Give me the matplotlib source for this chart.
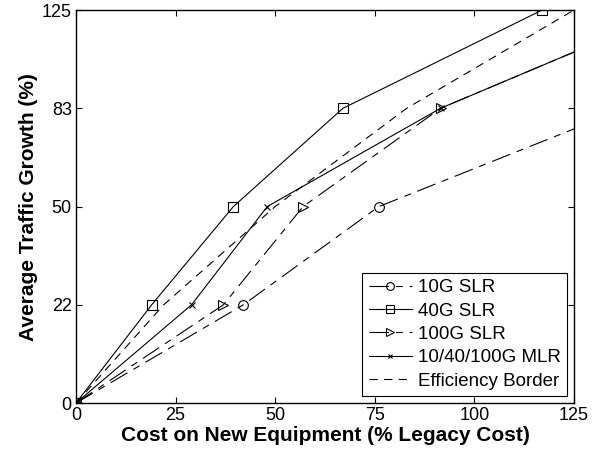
import matplotlib
matplotlib.use("Agg")
import matplotlib.pyplot as plt
import numpy as np

plt.rcParams['font.family'] = ['Liberation Sans', 'DejaVu Sans']
plt.rcParams['lines.scale_dashes'] = False

# y ticks are evenly spaced on the chart although the values are not
ytick_vals = [0, 22, 50, 83, 125]
xtick_vals = [0, 25, 50, 75, 100, 125]

x_10g = [0, 42, 76, 138]
y_10g = [0, 22, 50, 83]
x_40g = [0, 19, 39.5, 67, 117]
y_40g = [0, 22, 50, 83, 125]
x_100g = [0, 37, 57, 91.5, 150]
y_100g = [0, 22, 50, 83, 125]
x_mlr = [0, 29, 48, 91.5, 150]
y_mlr = [0, 22, 50, 83, 125]
x_border = [0, 22, 50, 83, 125]
y_border = [0, 22, 50, 83, 125]

idx = np.arange(len(ytick_vals))
def fwd(v):
    return np.interp(v, ytick_vals, idx)
def inv(v):
    return np.interp(v, idx, ytick_vals)

fig = plt.figure(figsize=(6.06, 4.57), dpi=100)
ax = fig.add_axes([0.1254, 0.118, 0.8218, 0.860])
ax.set_yscale('function', functions=(fwd, inv))

dashdot = (0, (14, 5, 5, 5))
lw = 0.8
ax.plot(x_10g, y_10g, color='k', lw=lw, ls=dashdot, marker='o', ms=7, mfc='none', mew=0.8, label='10G SLR')
ax.plot(x_40g, y_40g, color='k', lw=lw, ls='-', marker='s', ms=7, mfc='none', mew=0.8, label='40G SLR')
ax.plot(x_100g, y_100g, color='k', lw=lw, ls=dashdot, marker='>', ms=7, mfc='none', mew=0.8, label='100G SLR')
ax.plot(x_mlr, y_mlr, color='k', lw=lw, ls='-', marker='x', ms=4, mew=0.8, label='10/40/100G MLR')
ax.plot(x_border, y_border, color='k', lw=lw, ls=(0, (6, 4.5)), label='Efficiency Border')

ax.set_xlim(0, 125)
ax.set_ylim(0, 125)
ax.set_xticks(xtick_vals)
ax.set_yticks(ytick_vals)
ax.set_yticklabels([str(v) for v in ytick_vals])
ax.minorticks_off()
ax.tick_params(direction='in', top=True, right=True, labelsize=13, length=4, width=0.8, pad=3)
for s in ax.spines.values():
    s.set_linewidth(1.0)

ax.set_xlabel('Cost on New Equipment (% Legacy Cost)', fontsize=15, fontweight='bold', labelpad=1)
ax.set_ylabel('Average Traffic Growth (%)', fontsize=15, fontweight='bold', labelpad=3)

leg = ax.legend(loc='lower right', fontsize=13.5, handlelength=2.3, fancybox=False, framealpha=1,
                edgecolor='k', borderaxespad=0.37, labelspacing=0.33, handletextpad=0.3,
                borderpad=0.35, markerscale=0.8)
leg.get_frame().set_linewidth(0.8)

fig.savefig('out.png', dpi=100)
